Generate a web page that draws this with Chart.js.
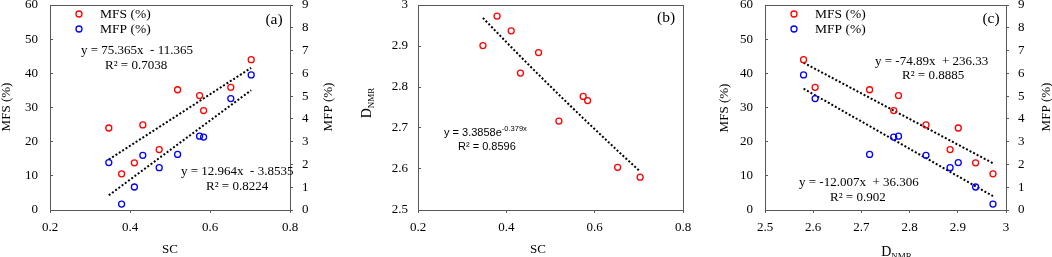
<!DOCTYPE html>
<html>
<head>
<meta charset="utf-8">
<script src="https://cdn.jsdelivr.net/npm/chart.js@4.4.0/dist/chart.umd.min.js"></script>
<style>
  html, body { margin: 0; padding: 0; background: #fff; }
  #wrap { position: relative; width: 1052px; height: 257px; overflow: hidden; }
  canvas { position: absolute; top: 0; }
</style>
</head>
<body>
<div id="wrap">
  <canvas id="chartA" width="350" height="257" style="left:0"></canvas>
  <canvas id="chartB" width="350" height="257" style="left:350px"></canvas>
  <canvas id="chartC" width="352" height="257" style="left:700px"></canvas>
</div>
<script>
// one entry per sample, same order in every array
const sc   = [0.347, 0.379, 0.411, 0.432, 0.473, 0.519, 0.574, 0.584, 0.652, 0.703];
const dnmr = [2.901, 2.973, 2.937, 2.834, 2.884, 2.717, 2.777, 2.767, 2.604, 2.580];
const mfs  = [24.0, 10.6, 13.8, 24.9, 17.7, 35.2, 33.5, 29.1, 35.9, 44.0];
const mfp  = [2.08, 0.26, 1.01, 2.40, 1.86, 2.44, 3.24, 3.20, 4.89, 5.93];

// trend line coefficients (linear: a*x + b, exp: a*e^(b*x))
const fitMfsSc   = [75.365, -11.365];
const fitMfpSc   = [12.964, -3.8535];
const fitDnmrSc  = [3.3858, -0.379];
const fitMfsDnmr = [-74.89, 236.33];
const fitMfpDnmr = [-12.007, 36.306];

// axis ranges: min, max, step
const scRange   = [0.2, 0.8, 0.2];
const dnmrRange = [2.5, 3, 0.1];
const mfsRange  = [0, 60, 10];
const mfpRange  = [0, 9, 1];

const RED = '#ff0000', BLUE = '#0000ff', AXIS = '#595959', TXT = '#000';
const SERIF = "'Liberation Serif', 'Times New Roman', serif";
const SANS = "'Liberation Sans', Arial, sans-serif";

function pts(xs, ys) { return xs.map((x, i) => ({ x: x, y: ys[i] })); }
function linFit(xs, c) {
  const lo = Math.min(...xs), hi = Math.max(...xs);
  return [lo, hi].map(x => ({ x: x, y: c[0] * x + c[1] }));
}
function expFit(xs, c) {
  return xs.slice().sort((a, b) => a - b).map(x => ({ x: x, y: c[0] * Math.exp(c[1] * x) }));
}
function fmt(v) { return String(Number(v.toFixed(2))); }

function markers(data, color, axis) {
  return {
    data: data, yAxisID: axis, showLine: false,
    borderColor: color, backgroundColor: 'rgba(0,0,0,0)',
    pointRadius: 3, pointHoverRadius: 3, pointBorderWidth: 1.3, order: 0
  };
}
function trend(data, axis) {
  return {
    data: data, yAxisID: axis, showLine: true, fill: false,
    borderColor: '#000', borderWidth: 2, borderDash: [2, 2],
    pointRadius: 0, pointHoverRadius: 0, order: 1
  };
}

function xAxis(r, h) {
  return {
    type: 'linear', position: 'bottom', min: r[0], max: r[1],
    ticks: { stepSize: r[2], autoSkip: false, maxRotation: 0, color: TXT,
             font: { family: SERIF, size: 13 }, padding: 7, callback: fmt },
    grid: { drawOnChartArea: false, tickLength: 3, tickColor: AXIS },
    border: { color: AXIS, width: 1 },
    afterFit(s) { s.height = h; s.paddingLeft = 0; s.paddingRight = 0; }
  };
}
function yAxis(r, pos, w, tickLen, pad) {
  return {
    type: 'linear', position: pos, min: r[0], max: r[1],
    ticks: { stepSize: r[2], autoSkip: false, color: TXT,
             font: { family: SERIF, size: 13 }, padding: pad, callback: fmt },
    grid: { drawOnChartArea: false, tickLength: tickLen, tickColor: AXIS },
    border: { color: AXIS, width: 1 },
    afterFit(s) { s.width = w; s.paddingTop = 0; s.paddingBottom = 0; }
  };
}

function txt(ctx, s, x, y, o) {
  o = o || {};
  ctx.save();
  ctx.font = (o.size || 13) + 'px ' + (o.family || SERIF);
  ctx.fillStyle = TXT;
  ctx.textAlign = o.align || 'left';
  ctx.textBaseline = 'middle';
  ctx.translate(x, y);
  if (o.rot) ctx.rotate(o.rot);
  ctx.fillText(s, 0, 0);
  ctx.restore();
}
// text with a lowered (sub) or raised (sup) part, centred or left at x
function twoPart(ctx, main, small, x, y, size, smallSize, shift, family, align, rot) {
  ctx.save();
  ctx.translate(x, y);
  if (rot) ctx.rotate(rot);
  ctx.fillStyle = TXT;
  ctx.textBaseline = 'alphabetic';
  ctx.textAlign = 'left';
  ctx.font = size + 'px ' + family;
  const w1 = ctx.measureText(main).width;
  ctx.font = smallSize + 'px ' + family;
  const w2 = ctx.measureText(small).width;
  const x0 = align === 'center' ? -(w1 + w2) / 2 : 0;
  const base = size * 0.33;
  ctx.font = size + 'px ' + family;
  ctx.fillText(main, x0, base);
  ctx.font = smallSize + 'px ' + family;
  ctx.fillText(small, x0 + w1, base + shift);
  ctx.restore();
}
function legendItem(ctx, x, y, color, label) {
  ctx.save();
  ctx.beginPath();
  ctx.arc(x, y, 3, 0, Math.PI * 2);
  ctx.strokeStyle = color;
  ctx.lineWidth = 1.3;
  ctx.stroke();
  ctx.restore();
  txt(ctx, label, x + 21, y, { size: 13.5 });
}

function decor(drawFn) {
  return {
    id: 'decor',
    beforeDatasetsDraw(chart) {
      const { ctx, chartArea: a } = chart;
      const al = v => Math.round(v - 0.5) + 0.5;
      ctx.save();
      ctx.strokeStyle = AXIS;
      ctx.lineWidth = 1;
      ctx.strokeRect(al(a.left), al(a.top), al(a.right) - al(a.left), al(a.bottom) - al(a.top));
      ctx.restore();
    },
    afterDraw(chart) { drawFn(chart.ctx); }
  };
}

function opts(padding, scales) {
  return {
    responsive: false, animation: false, devicePixelRatio: 1, events: [],
    layout: { padding: padding },
    plugins: { legend: { display: false }, tooltip: { enabled: false } },
    scales: scales
  };
}

const UP = -Math.PI / 2;

// (a) MFS / MFP vs SC
new Chart(document.getElementById('chartA'), {
  type: 'scatter',
  data: { datasets: [
    markers(pts(sc, mfs), RED, 'y'),
    markers(pts(sc, mfp), BLUE, 'y2'),
    trend(linFit(sc, fitMfsSc), 'y'),
    trend(linFit(sc, fitMfpSc), 'y2')
  ] },
  options: opts({ top: 5, left: 0, right: 0, bottom: 0 }, {
    x: xAxis(scRange, 47),
    y: yAxis(mfsRange, 'left', 50, -3, 15),
    y2: yAxis(mfpRange, 'right', 60, 3, 9)
  }),
  plugins: [decor(ctx => {
    legendItem(ctx, 79, 14, RED, 'MFS (%)');
    legendItem(ctx, 79, 29, BLUE, 'MFP (%)');
    txt(ctx, '(a)', 274, 20, { size: 15.5, align: 'center' });
    txt(ctx, 'y = 75.365x  - 11.365', 81, 51);
    txt(ctx, 'R² = 0.7038', 105, 66);
    txt(ctx, 'y = 12.964x  - 3.8535', 181, 172);
    txt(ctx, 'R² = 0.8224', 206, 187);
    txt(ctx, 'MFS (%)', 7, 107, { align: 'center', rot: UP });
    txt(ctx, 'MFP (%)', 329, 107, { align: 'center', rot: UP });
    txt(ctx, 'SC', 170, 250, { align: 'center' });
  })]
});

// (b) DNMR vs SC
new Chart(document.getElementById('chartB'), {
  type: 'scatter',
  data: { datasets: [
    markers(pts(sc, dnmr), RED, 'y'),
    trend(expFit(sc, fitDnmrSc), 'y')
  ] },
  options: opts({ top: 5, left: 0, right: 17, bottom: 0 }, {
    x: xAxis(scRange, 47),
    y: yAxis(dnmrRange, 'left', 68, -3, 13)
  }),
  plugins: [decor(ctx => {
    txt(ctx, '(b)', 316, 18, { size: 15.5, align: 'center' });
    twoPart(ctx, 'y = 3.3858e', '-0.379x', 94, 132, 11, 7.5, -5, SANS, 'left');
    txt(ctx, 'R² = 0.8596', 108, 147, { size: 11, family: SANS });
    twoPart(ctx, 'D', 'NMR', 16, 103, 14, 9, 3, SERIF, 'center', UP);
    txt(ctx, 'SC', 188, 250, { align: 'center' });
  })]
});

// (c) MFS / MFP vs DNMR
new Chart(document.getElementById('chartC'), {
  type: 'scatter',
  data: { datasets: [
    markers(pts(dnmr, mfs), RED, 'y'),
    markers(pts(dnmr, mfp), BLUE, 'y2'),
    trend(linFit(dnmr, fitMfsDnmr), 'y'),
    trend(linFit(dnmr, fitMfpDnmr), 'y2')
  ] },
  options: opts({ top: 5, left: 0, right: 0, bottom: 0 }, {
    x: xAxis(dnmrRange, 47),
    y: yAxis(mfsRange, 'left', 65, -3, 15),
    y2: yAxis(mfpRange, 'right', 46, 3, 9)
  }),
  plugins: [decor(ctx => {
    legendItem(ctx, 94, 14, RED, 'MFS (%)');
    legendItem(ctx, 94, 29, BLUE, 'MFP (%)');
    txt(ctx, '(c)', 291, 19, { size: 15.5, align: 'center' });
    txt(ctx, 'y = -74.89x  + 236.33', 175, 62);
    txt(ctx, 'R² = 0.8885', 202, 76);
    txt(ctx, 'y = -12.007x  + 36.306', 99, 183);
    txt(ctx, 'R² = 0.902', 130, 198);
    txt(ctx, 'MFS (%)', 24.5, 108, { align: 'center', rot: UP });
    txt(ctx, 'MFP (%)', 347, 107, { align: 'center', rot: UP });
    twoPart(ctx, 'D', 'NMR', 196.5, 251, 14, 9, 3, SERIF, 'center');
  })]
});
</script>
</body>
</html>
